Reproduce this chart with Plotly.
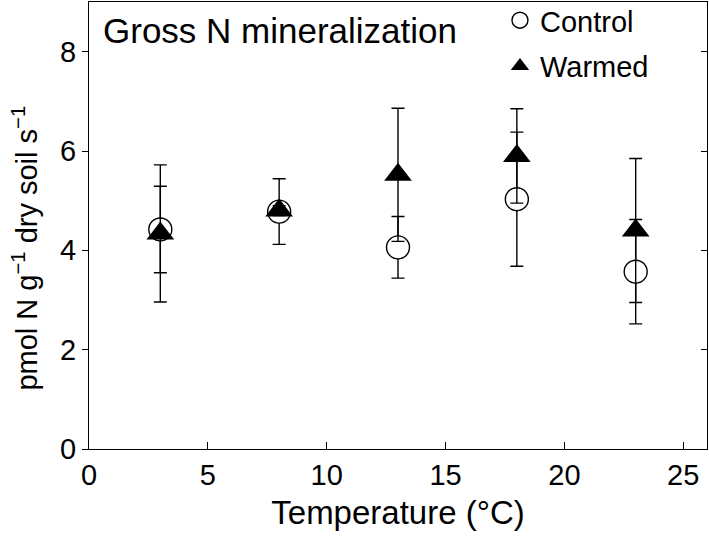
import plotly.graph_objects as go

temperature = [3, 8, 13, 18, 23]
control_mean = [4.42, 4.78, 4.06, 5.03, 3.57]
control_err = [0.87, 0.66, 0.62, 1.35, 1.05]
warmed_mean = [4.34, 4.80, 5.52, 5.90, 4.40]
warmed_err = [1.38, 0.10, 1.34, 0.95, 1.45]

x_ticks = [0, 5, 10, 15, 20, 25]
y_ticks = [0, 2, 4, 6, 8]

FONT = "Liberation Sans, Arial, sans-serif"

fig = go.Figure()
fig.add_trace(go.Scatter(
    x=temperature, y=control_mean, mode="markers", name="Control",
    legendgroup="c",
    marker=dict(symbol="circle", size=23, color="white",
                line=dict(color="black", width=1.4)),
    error_y=dict(type="data", array=control_err, visible=True,
                 color="black", thickness=1.4, width=6.5),
))
fig.add_trace(go.Scatter(
    x=temperature, y=warmed_mean, mode="markers", name="Warmed",
    legendgroup="w",
    marker=dict(symbol="triangle-up", size=24, color="black",
                line=dict(color="black", width=0)),
    error_y=dict(type="data", array=warmed_err, visible=True,
                 color="black", thickness=1.4, width=6.5),
))
# invisible trace on overlaying axis for inward right-side ticks
fig.add_trace(go.Scatter(x=[None], y=[None], yaxis="y2", showlegend=False,
                         hoverinfo="skip"))

fig.update_layout(
    width=709, height=537,
    margin=dict(l=89, r=2, t=2, b=88, autoexpand=False),
    paper_bgcolor="white", plot_bgcolor="white",
    font=dict(family=FONT, size=29, color="black"),
    showlegend=True,
    legend=dict(x=0.665, y=1.016, xanchor="left", yanchor="top",
                bgcolor="rgba(0,0,0,0)", font=dict(size=29),
                itemsizing="trace", traceorder="grouped", tracegroupgap=5),
    xaxis=dict(range=[0, 26], tickvals=x_ticks, ticks="inside", ticklen=7,
               tickwidth=1.2, tickcolor="black", showline=True, linecolor="black",
               linewidth=1.3, mirror=True, showgrid=False, zeroline=False,
               automargin=False, tickfont=dict(size=29),
               title=dict(text="Temperature (°C)", font=dict(size=33), standoff=10)),
    yaxis=dict(range=[0, 9], tickvals=y_ticks, ticks="outside", ticklen=6,
               tickwidth=1.2, tickcolor="black", showline=True, linecolor="black",
               linewidth=1.3, mirror=True, showgrid=False, zeroline=False,
               automargin=False, tickfont=dict(size=29)),
    yaxis2=dict(range=[0, 9], tickvals=y_ticks, overlaying="y", side="right",
                ticks="inside", ticklen=6, tickwidth=1.2, tickcolor="black",
                automargin=False,
                showticklabels=False, showgrid=False, zeroline=False, showline=False),
    annotations=[
        dict(text="Gross N mineralization", xref="paper", yref="paper",
             x=0.02, y=0.985, xanchor="left", yanchor="top",
             showarrow=False, font=dict(size=35)),
        dict(text="pmol N g<sup>\u22121</sup> dry soil s<sup>\u22121</sup>",
             xref="paper", yref="paper", x=-0.104, y=0.45,
             xanchor="center", yanchor="middle", textangle=-90,
             showarrow=False, font=dict(size=29)),
    ],
)

fig.write_html("out.html", config={"displayModeBar": False},
               post_script="document.body.style.margin='0';document.body.style.overflow='hidden';")
